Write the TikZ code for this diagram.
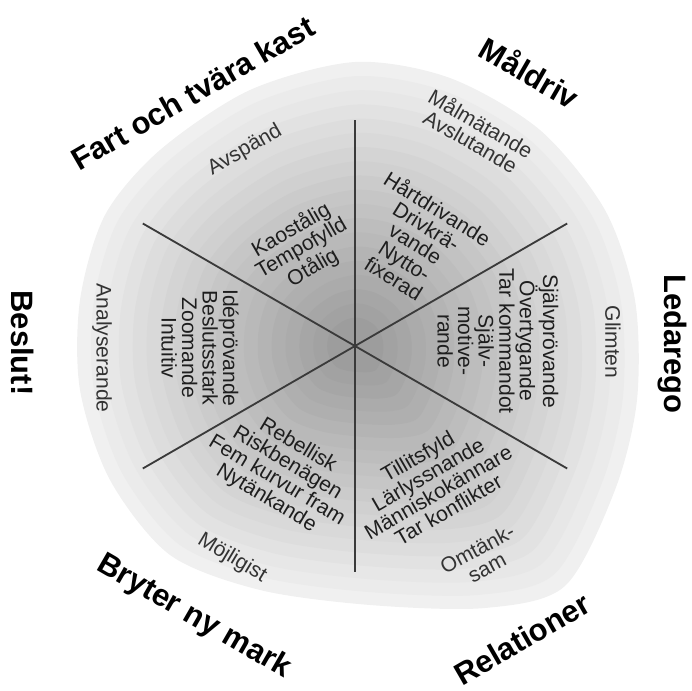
\documentclass[tikz,border=0pt]{standalone}
\usepackage{fontspec}
\setmainfont{Liberation Sans}
\definecolor{spoke}{HTML}{3A3A3A}
\definecolor{ink}{HTML}{1E1E1E}

\begin{document}
\begin{tikzpicture}[x=0.025cm, y=0.025cm,
  area/.style={font=\fontsize{22}{24}\selectfont\bfseries, inner sep=0pt},
  trait/.style={font=\fontsize{15}{14.6}\selectfont, align=center, inner sep=0pt, text=ink},
  hint/.style={font=\fontsize{15}{14.6}\selectfont, align=center, inner sep=0pt, text=black!80}]
  \useasboundingbox (-355,-345) rectangle (337,346);

  % grey blob, darker towards the middle
  \foreach \k in {0,...,18}{
    \pgfmathsetmacro{\s}{1-0.05*\k}
    \pgfmathsetmacro{\g}{6+36*(1-\s)}
    \fill[black!\g, scale=\s] plot[smooth cycle] coordinates {
      (0,284) (95,268) (185,216) (250,136) (280,46) (282,-54) (260,-144)
      (210,-240) (130,-262) (15,-259) (-95,-244) (-185,-209) (-245,-134)
      (-275,-44) (-275,46) (-250,131) (-195,196) (-105,256)};
  }

  % spokes
  \coordinate (c) at (0,0);
  \foreach \a/\r in {90/226, 30/245, -30/245, -90/226, -150/245, 150/245}{
    \coordinate (e\a) at (\a:\r);
    \draw[spoke, line width=1.3pt] (c) -- (e\a);
  }

  % Måldriv
  \node[area, rotate=-30] (maldriv) at (175,274) {Måldriv};
  \node[hint, rotate=-30] (malmat) at (121,214) {Målmätande\\Avslutande};
  \node[trait, rotate=-32] (hart) at (61,103) {Hårtdrivande\\Drivkrä-\\vande\\Nytto-\\fixerad};

  % Ledarego
  \node[area, rotate=-90] (ledarego) at (317,2) {Ledarego};
  \node[hint, rotate=-90] (glimten) at (258,4) {Glimten};
  \node[trait, rotate=-90] (sjalv) at (143,5) {Självprövande\\Övertygande\\Tar kommandot\\Själv-\\motive-\\rande};

  % Relationer
  \node[area, rotate=30] (relationer) at (167,-293) {Relationer};
  \node[hint, rotate=28] (omtank) at (127,-212) {Omtänk-\\sam};
  \node[trait, rotate=30] (tillit) at (78,-137) {Tillitsfyld\\Lärlyssnande\\Människokännare\\Tar konflikter};

  % Bryter ny mark
  \node[area, rotate=-30] (bryter) at (-161,-271) {Bryter ny mark};
  \node[hint, rotate=-31] (mojlig) at (-123,-212) {Möjligist};
  \node[trait, rotate=-31] (rebell) at (-73,-126) {Rebellisk\\Riskbenägen\\Fem kurvur fram\\Nytänkande};

  % Beslut!
  \node[area, rotate=-90] (beslut) at (-332,3) {Beslut!};
  \node[hint, rotate=-90] (analys) at (-253,-2) {Analyserande};
  \node[trait, rotate=-90] (ide) at (-155,-2) {Idéprövande\\Beslutsstark\\Zoomande\\Intuitiv};

  % Fart och tvära kast
  \node[area, rotate=30] (fart) at (-162,253) {Fart och tvära kast};
  \node[hint, rotate=30] (avspand) at (-110,196) {Avspänd};
  \node[trait, rotate=30] (kaos) at (-53,97) {Kaostålig\\Tempofylld\\Otålig};
\end{tikzpicture}
\end{document}
